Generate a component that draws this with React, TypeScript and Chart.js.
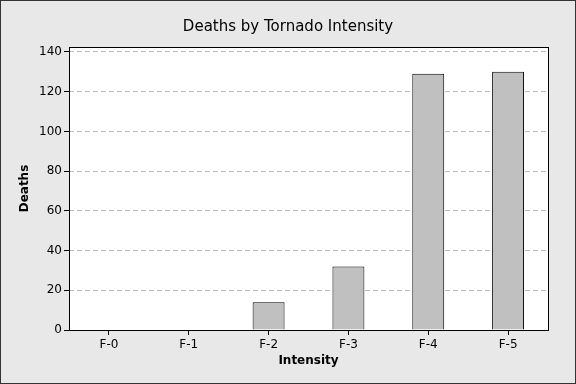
import React, { useEffect, useRef } from "react";
import { Chart, registerables } from "chart.js";

Chart.register(...registerables);

const categories = ["F-0", "F-1", "F-2", "F-3", "F-4", "F-5"];
const deaths = [0, 0, 14, 32, 129, 130];
const chartTitle = "Deaths by Tornado Intensity";
const xTitle = "Intensity";
const yTitle = "Deaths";

const FONT = "'DejaVu Sans', sans-serif";

const framePlugin = {
  id: "frame",
  beforeDraw(chart: any) {
    const { ctx, width, height, chartArea } = chart;
    ctx.save();
    ctx.fillStyle = "#e8e8e8";
    ctx.fillRect(0, 0, width, height);
    ctx.strokeStyle = "#333333";
    ctx.lineWidth = 1;
    ctx.strokeRect(0.5, 0.5, width - 1, height - 1);
    ctx.fillStyle = "#ffffff";
    ctx.fillRect(chartArea.left, chartArea.top, chartArea.right - chartArea.left, chartArea.bottom - chartArea.top);
    ctx.fillStyle = "#000000";
    ctx.font = "15px " + FONT;
    ctx.textAlign = "center";
    ctx.textBaseline = "middle";
    ctx.fillText(chartTitle, width / 2, 27);
    ctx.restore();
  },
  afterDraw(chart: any) {
    const { ctx, chartArea } = chart;
    ctx.save();
    ctx.strokeStyle = "#000000";
    ctx.lineWidth = 1;
    const l = Math.round(chartArea.left) + 0.5;
    const t = Math.round(chartArea.top) + 0.5;
    const r = Math.round(chartArea.right) + 0.5;
    const b = Math.round(chartArea.bottom) + 0.5;
    ctx.strokeRect(l, t, r - l, b - t);
    ctx.restore();
  },
};

export default function App() {
  const ref = useRef<HTMLCanvasElement | null>(null);
  useEffect(() => {
    document.body.style.margin = "0";
    const canvas = ref.current!;
    const chart = new Chart(canvas, {
      type: "bar",
      data: {
        labels: categories,
        datasets: [
          {
            label: yTitle,
            data: deaths,
            backgroundColor: "#c0c0c0",
            borderColor: "#000000",
            borderWidth: 1,
            barPercentage: 0.4,
            categoryPercentage: 1,
          },
        ],
      },
      options: {
        animation: false,
        responsive: false,
        layout: { padding: { top: 47, right: 28, left: 0, bottom: 0 } },
        plugins: {
          legend: { display: false },
          title: { display: false },
          tooltip: { enabled: false },
        },
        scales: {
          x: {
            offset: true,
            grid: {
              offset: false,
              drawOnChartArea: false,
              drawTicks: true,
              tickLength: 5,
              color: "#000000",
              tickColor: "#000000",
            },
            border: { display: false },
            ticks: {
              color: "#000000",
              font: { family: FONT, size: 12 },
              padding: 3,
              maxRotation: 0,
            },
            title: {
              display: true,
              text: xTitle,
              color: "#000000",
              font: { family: FONT, size: 12, weight: "bold" },
              padding: { top: 0, bottom: 16 },
            },
            afterFit: (s: any) => {
              s.height = 54;
            },
          } as any,
          y: {
            min: 0,
            max: 142.5,
            afterBuildTicks: (s: any) => {
              s.ticks = [0, 20, 40, 60, 80, 100, 120, 140].map((v) => ({ value: v }));
            },
            grid: {
              color: "#bcbcbc",
              lineWidth: 1,
              drawTicks: true,
              tickLength: 5,
              tickColor: "#000000",
              tickBorderDash: [],
              borderDash: [5, 3],
            },
            border: { display: false, dash: [5, 3] },
            ticks: {
              color: "#000000",
              font: { family: FONT, size: 12 },
              padding: 2,
            },
            title: {
              display: true,
              text: yTitle,
              color: "#000000",
              font: { family: FONT, size: 12, weight: "bold" },
              padding: { top: 18, bottom: 0 },
            },
            afterFit: (s: any) => {
              s.width = 69;
            },
          } as any,
        },
      },
      plugins: [framePlugin],
    });
    return () => chart.destroy();
  }, []);
  return <canvas ref={ref} width={576} height={384} style={{ display: "block" }} />;
}
